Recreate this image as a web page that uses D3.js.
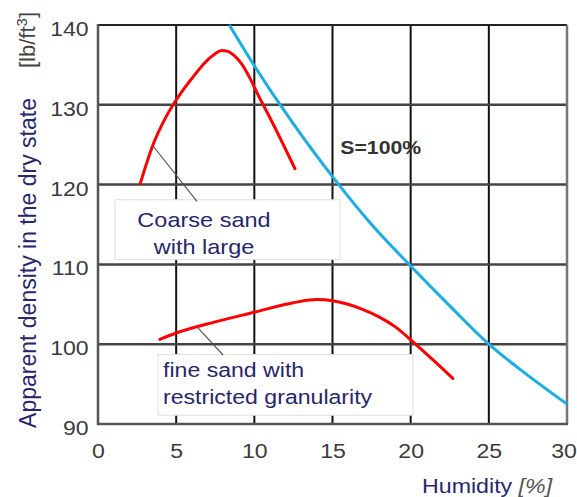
<!DOCTYPE html>
<html>
<head>
<meta charset="utf-8">
<script src="https://cdn.jsdelivr.net/npm/d3@7"></script>
<style>
  html, body { margin: 0; padding: 0; background: #fff; }
  svg { display: block; font-family: Arial, "Liberation Sans", sans-serif; }
</style>
</head>
<body>
<svg id="chart" width="577" height="497"></svg>
<script>
// ---- data ----
const xTicks = [0, 5, 10, 15, 20, 25, 30];
const yTicks = [90, 100, 110, 120, 130, 140];

// Coarse sand with large granularity (red, upper)
const coarseX = [2.7, 3.5, 4.3, 5.0, 6.0, 7.0, 7.5, 7.9, 8.3, 8.7, 9.2, 9.7, 10.2, 11.2, 12.6];
const coarseY = [120.1, 124.9, 128.3, 130.6, 133.3, 135.6, 136.4, 136.8, 136.7, 136.2, 135.1, 133.4, 131.4, 127.6, 122.0];

// Fine sand with restricted granularity (red, lower)
const fineX = [3.96, 5.0, 7.5, 10.0, 12.5, 14.0, 15.0, 16.0, 17.0, 18.0, 19.0, 20.2, 21.5, 22.7];
const fineY = [100.6, 101.4, 102.8, 104.0, 105.2, 105.6, 105.45, 105.0, 104.3, 103.4, 102.2, 100.2, 97.9, 95.7];

// Saturation line S = 100% (blue)
const satX = [8.4, 10.0, 12.5, 15.0, 17.5, 20.0, 22.5, 25.0, 27.5, 30.0];
const satY = [140.0, 134.9, 127.6, 121.0, 115.0, 109.8, 104.8, 100.0, 96.1, 92.5];

const satLabel = "S=100%";
const coarseLabel = ["Coarse sand", "with large"];
const fineLabel = ["fine sand with", "restricted granularity"];
const xTitle = "Humidity";
const xUnit = "[%]";
const yTitle = "Apparent density in the dry state";

// ---- layout ----
const svg = d3.select("#chart");
const x = d3.scaleLinear().domain([0, 30]).range([98, 567]);
const y = d3.scaleLinear().domain([90, 140]).range([424, 25]);

const tickColor = "#3c3c3c";
const navy = "#27276a";

// gridlines
const g = svg.append("g");
g.selectAll("line.v").data(xTicks.slice(1, -1)).join("line")
  .attr("x1", d => x(d)).attr("x2", d => x(d))
  .attr("y1", y(140)).attr("y2", y(90))
  .attr("stroke", "#111").attr("stroke-width", 2);
g.selectAll("line.h").data(yTicks.slice(1, -1)).join("line")
  .attr("x1", x(0)).attr("x2", x(30))
  .attr("y1", d => y(d)).attr("y2", d => y(d))
  .attr("stroke", "#444").attr("stroke-width", 2.5);
// frame
g.append("line").attr("x1", x(0)).attr("x2", x(30)).attr("y1", y(140)).attr("y2", y(140))
  .attr("stroke", "#222").attr("stroke-width", 2);
g.append("line").attr("x1", x(30)).attr("x2", x(30)).attr("y1", y(140)).attr("y2", y(90))
  .attr("stroke", "#777").attr("stroke-width", 2.5);
g.append("line").attr("x1", x(0)).attr("x2", x(0)).attr("y1", y(140) - 1).attr("y2", y(90) + 1)
  .attr("stroke", "#555").attr("stroke-width", 2.5);
g.append("line").attr("x1", x(0) - 1).attr("x2", x(30) + 1).attr("y1", y(90)).attr("y2", y(90))
  .attr("stroke", "#555").attr("stroke-width", 2.5);

// axes (labels only)
const xAxis = svg.append("g").attr("transform", `translate(0,${y(90)})`)
  .call(d3.axisBottom(x).tickValues(xTicks).tickSize(0).tickFormat(d3.format("d")));
xAxis.select(".domain").remove();
xAxis.selectAll("text").attr("y", 34).attr("dy", null)
  .attr("font-size", 21).attr("fill", tickColor)
  .attr("font-family", "Arial, 'Liberation Sans', sans-serif")
  .attr("transform", "scale(1.1,1)")
  .attr("x", 0);
// keep the last label inside the picture
xAxis.selectAll("text").filter(d => d === 30)
  .attr("text-anchor", "end").attr("x", 8.5);

const yAxis = svg.append("g").attr("transform", `translate(${x(0)},0)`)
  .call(d3.axisLeft(y).tickValues(yTicks).tickSize(0).tickFormat(d3.format("d")));
yAxis.select(".domain").remove();
yAxis.selectAll("text").attr("x", -8.5).attr("dy", "0.5em")
  .attr("font-size", 21).attr("fill", tickColor)
  .attr("font-family", "Arial, 'Liberation Sans', sans-serif")
  .attr("transform", "scale(1.1,1)");

// annotation boxes
const boxes = [
  { x0: 1.09, x1: 15.48, y0: 118.1, y1: 110.6 },
  { x0: 3.84, x1: 20.14, y0: 98.7, y1: 91.1 }
];
svg.selectAll("rect.box").data(boxes).join("rect")
  .attr("x", d => x(d.x0)).attr("y", d => y(d.y0))
  .attr("width", d => x(d.x1) - x(d.x0)).attr("height", d => y(d.y1) - y(d.y0))
  .attr("fill", "#fff").attr("stroke", "#dedede").attr("stroke-width", 1);

// leader lines
const leaders = [
  { xa: 3.5, ya: 124.9, xb: 6.33, yb: 117.9 },
  { xa: 6.35, ya: 102.15, xb: 8.0, yb: 98.65 }
];
svg.selectAll("line.leader").data(leaders).join("line")
  .attr("x1", d => x(d.xa)).attr("y1", d => y(d.ya))
  .attr("x2", d => x(d.xb)).attr("y2", d => y(d.yb))
  .attr("stroke", "#555").attr("stroke-width", 1.2);

// curves
const line = d3.line().x(d => x(d[0])).y(d => y(d[1])).curve(d3.curveMonotoneX);
const zip = (a, b) => a.map((v, i) => [v, b[i]]);
svg.append("path").datum(zip(satX, satY)).attr("d", line)
  .attr("fill", "none").attr("stroke", "#1aaee2").attr("stroke-width", 3);
svg.append("path").datum(zip(coarseX, coarseY)).attr("d", line)
  .attr("fill", "none").attr("stroke", "#ff0000").attr("stroke-width", 3).attr("stroke-linecap", "round");
svg.append("path").datum(zip(fineX, fineY)).attr("d", line)
  .attr("fill", "none").attr("stroke", "#ff0000").attr("stroke-width", 3).attr("stroke-linecap", "round");

// text helper with horizontal stretch
function stext(px, py, txt, size, sx, opts = {}) {
  return svg.append("text")
    .attr("transform", `translate(${px},${py}) scale(${sx},1)`)
    .attr("font-size", size)
    .attr("fill", opts.fill || navy)
    .attr("text-anchor", opts.anchor || "start")
    .attr("font-weight", opts.weight || "normal")
    .text(txt);
}

// box labels
coarseLabel.forEach((s, i) => stext(204, 227 + i * 27, s, 21, 1.12, { anchor: "middle" }));
fineLabel.forEach((s, i) => stext(163, 377 + i * 27, s, 21, 1.1));

// S=100%
stext(x(15.5), 154, satLabel, 18, 1.18, { fill: "#333", weight: "bold" });

// x title
const xt = svg.append("text")
  .attr("transform", `translate(422,493) scale(1.16,1)`)
  .attr("font-size", 20).attr("fill", navy);
xt.append("tspan").text(xTitle + " ");
xt.append("tspan").attr("font-style", "italic").attr("fill", "#555").text(xUnit);

// y title
svg.append("text")
  .attr("transform", "translate(36,263) rotate(-90)")
  .attr("text-anchor", "middle").attr("font-size", 23).attr("fill", navy)
  .text(yTitle);
const yu = svg.append("text")
  .attr("transform", "translate(35,40) rotate(-90)")
  .attr("text-anchor", "middle").attr("font-size", 22).attr("fill", "#444");
yu.append("tspan").text("[lb/ft");
yu.append("tspan").attr("font-size", 15).attr("dy", -8).text("3");
yu.append("tspan").attr("dy", 8).text("]");
</script>
</body>
</html>
